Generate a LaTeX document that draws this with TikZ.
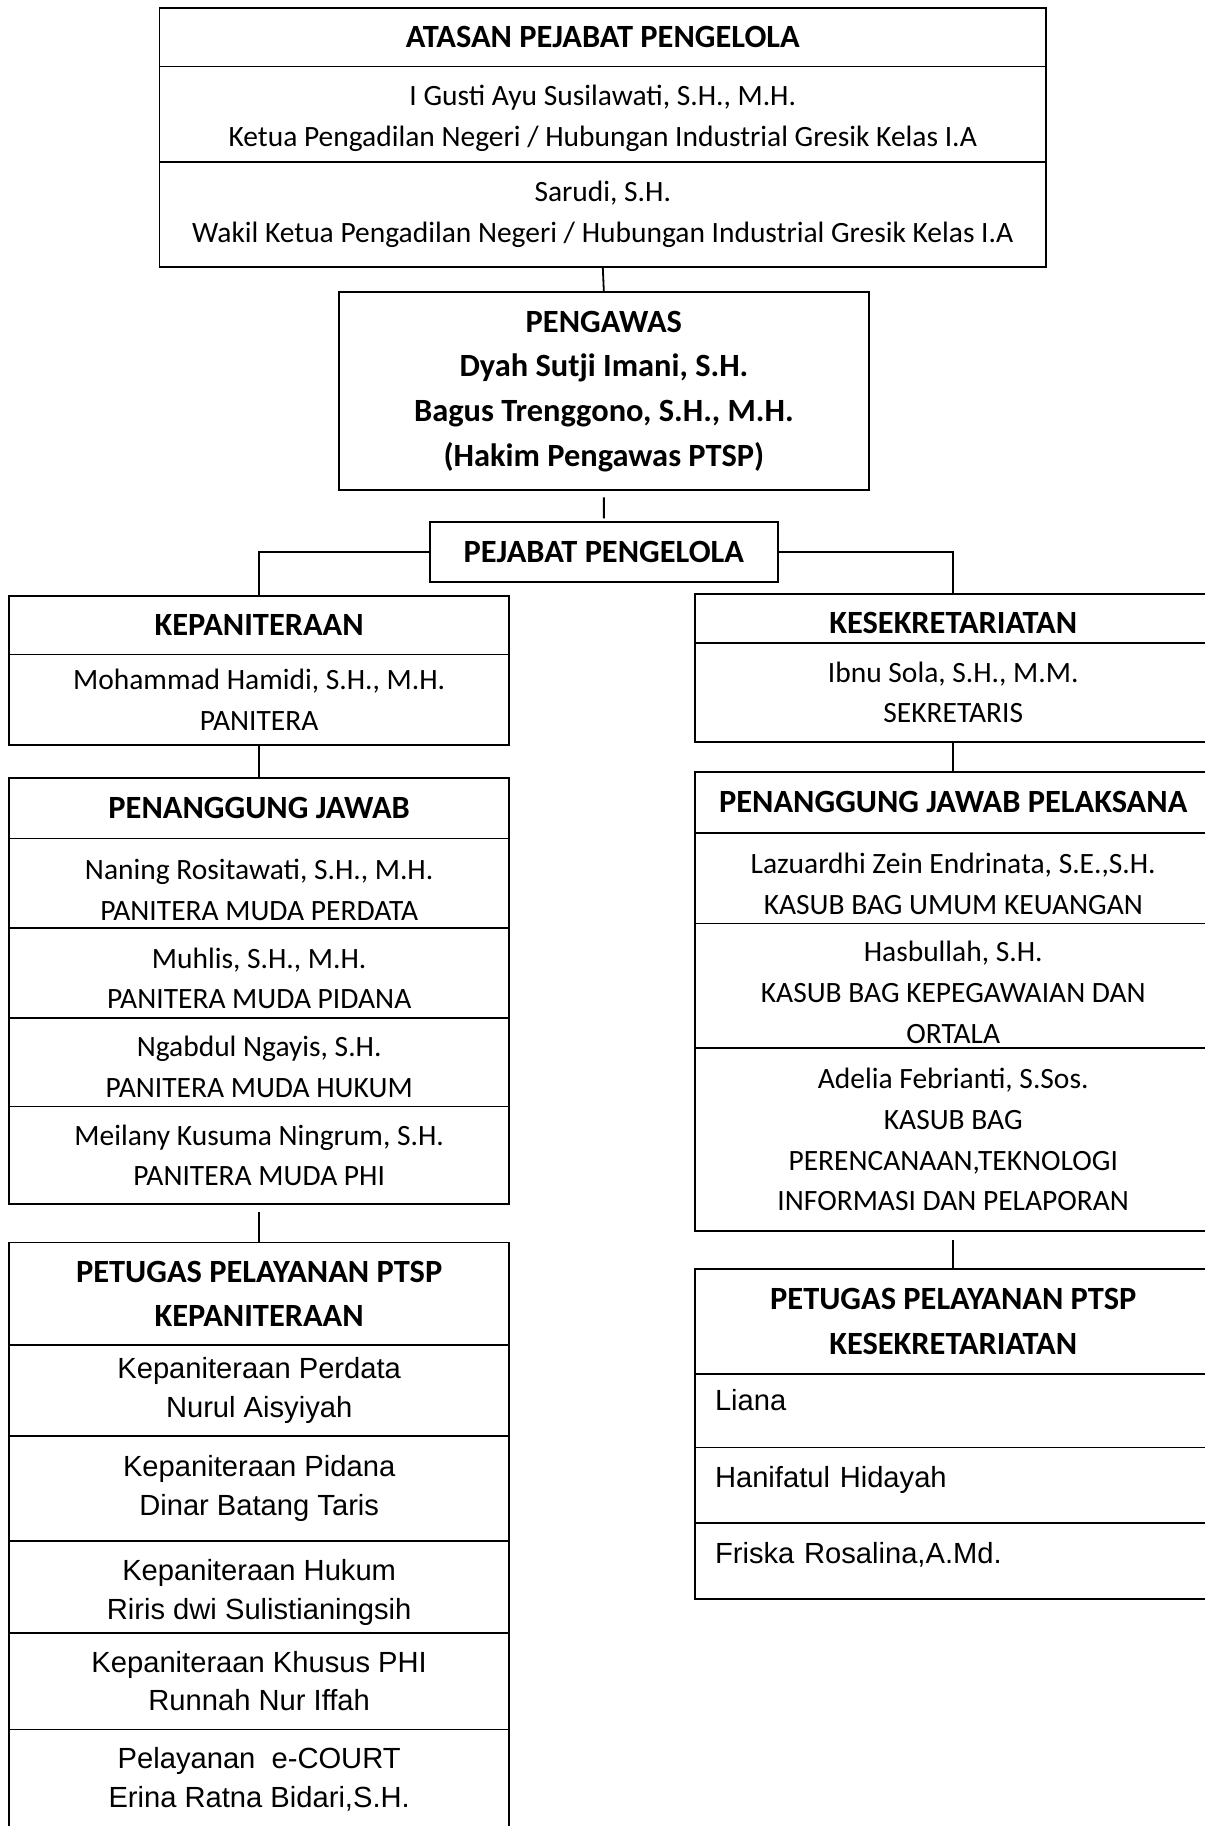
\documentclass[tikz,border=0pt]{standalone}
\usepackage{fontspec}
\setmainfont{Carlito}
\newfontfamily\arialfont{Liberation Sans}
\usepackage{tikz}
\usetikzlibrary{positioning, calc}
\newcommand{\padtop}[1]{\rule{0pt}{#1}}
\newcommand{\padbot}[1]{\rule[-#1]{0pt}{#1}}
\tikzset{
    cellnode/.style={rectangle, draw=black, line width=1.1pt, inner sep=0pt, outer sep=0pt, align=center, font=\fontsize{18}{24.8}\selectfont},
    headnode/.style={cellnode, font=\bfseries\fontsize{19.8}{27.3}\selectfont},
    arialnode/.style={cellnode, font=\arialfont\fontsize{17.8}{23.6}\selectfont},
    leftnode/.style={arialnode, align=left, text width=10.225cm},
    topcol/.style={minimum width=19.025cm},
    leftcol/.style={minimum width=10.725cm},
    rightcol/.style={minimum width=11.075cm},
    link/.style={draw=black, line width=1.1pt},
}

\begin{document}
\begin{tikzpicture}[x=0.025cm, y=-0.025cm]
    % Sfondo / dimensioni pagina
    \fill[white] (0,0) rectangle (1034,1568);
    \useasboundingbox (0,0) rectangle (1034,1568);

    % --- ATASAN PEJABAT PENGELOLA ---
    \node[headnode, topcol, minimum height=1.25cm, anchor=north west] (atasanHead) at (137,7) {ATASAN PEJABAT PENGELOLA};
    \node[cellnode, topcol, minimum height=2.05cm, below=0pt of atasanHead] (atasanKetua) {\padtop{17.5pt}I Gusti Ayu Susilawati, S.H., M.H.\\Ketua Pengadilan Negeri / Hubungan Industrial Gresik Kelas I.A};
    \node[cellnode, topcol, minimum height=2.25cm, below=0pt of atasanKetua] (atasanWakil) {Sarudi, S.H.\\Wakil Ketua Pengadilan Negeri / Hubungan Industrial Gresik Kelas I.A};

    % --- PENGAWAS ---
    \node[headnode, minimum width=11.375cm, minimum height=4.25cm, anchor=north west] (pengawas) at (291,251) {PENGAWAS\\Dyah Sutji Imani, S.H.\\Bagus Trenggono, S.H., M.H.\\(Hakim Pengawas PTSP)};

    % --- PEJABAT PENGELOLA ---
    \node[headnode, minimum width=7.475cm, minimum height=1.3cm, anchor=north west] (pejabat) at (369,448) {PEJABAT PENGELOLA};

    % --- Colonna sinistra: KEPANITERAAN ---
    \node[headnode, leftcol, minimum height=1.25cm, anchor=north west] (kepanHead) at (8,512) {KEPANITERAAN};
    \node[cellnode, leftcol, minimum height=1.95cm, below=0pt of kepanHead] (kepanBody) {Mohammad Hamidi, S.H., M.H.\\PANITERA};

    \node[headnode, leftcol, minimum height=1.3cm, anchor=north west] (pjHead) at (8,668) {PENANGGUNG JAWAB};
    \node[cellnode, leftcol, minimum height=1.925cm, below=0pt of pjHead] (pjA) {\padtop{20.3pt}Naning Rositawati, S.H., M.H.\\PANITERA MUDA PERDATA};
    \node[cellnode, leftcol, minimum height=1.925cm, below=0pt of pjA] (pjB) {\padtop{18.9pt}Muhlis, S.H., M.H.\\PANITERA MUDA PIDANA};
    \node[cellnode, leftcol, minimum height=1.9cm, below=0pt of pjB] (pjC) {\padtop{18.2pt}Ngabdul Ngayis, S.H.\\PANITERA MUDA HUKUM};
    \node[cellnode, leftcol, minimum height=2.1cm, below=0pt of pjC] (pjD) {Meilany Kusuma Ningrum, S.H.\\PANITERA MUDA PHI};

    \node[headnode, leftcol, minimum height=2.2cm, anchor=north west] (ptspKHead) at (8,1067) {PETUGAS PELAYANAN PTSP\\KEPANITERAAN};
    \node[arialnode, leftcol, minimum height=1.95cm, below=0pt of ptspKHead] (ptspKa) {Kepaniteraan Perdata\\Nurul Aisyiyah};
    \node[arialnode, leftcol, minimum height=2.25cm, below=0pt of ptspKa] (ptspKb) {Kepaniteraan Pidana\\Dinar Batang Taris};
    \node[arialnode, leftcol, minimum height=1.975cm, below=0pt of ptspKb] (ptspKc) {\padtop{19.9pt}Kepaniteraan Hukum\\Riris dwi Sulistianingsih};
    \node[arialnode, leftcol, minimum height=2.075cm, below=0pt of ptspKc] (ptspKd) {Kepaniteraan Khusus PHI\\Runnah Nur Iffah};
    \node[arialnode, leftcol, minimum height=2.15cm, below=0pt of ptspKd] (ptspKe) {Pelayanan~ e-COURT\\Erina Ratna Bidari,S.H.};

    % --- Colonna destra: KESEKRETARIATAN ---
    \node[headnode, rightcol, minimum height=1.05cm, anchor=north west] (kesekHead) at (597,510) {\padtop{18.9pt}KESEKRETARIATAN};
    \node[cellnode, rightcol, minimum height=2.125cm, below=0pt of kesekHead] (kesekBody) {Ibnu Sola, S.H., M.M.\\SEKRETARIS};

    \node[headnode, rightcol, minimum height=1.3cm, anchor=north west] (pjpHead) at (597,663) {PENANGGUNG JAWAB PELAKSANA};
    \node[cellnode, rightcol, minimum height=1.95cm, below=0pt of pjpHead] (pjpA) {\padtop{19.6pt}Lazuardhi Zein Endrinata, S.E.,S.H.\\KASUB BAG UMUM KEUANGAN};
    \node[cellnode, rightcol, minimum height=2.675cm, below=0pt of pjpA] (pjpB) {\padtop{20.5pt}Hasbullah, S.H.\\KASUB BAG KEPEGAWAIAN DAN\\ORTALA};
    \node[cellnode, rightcol, minimum height=3.925cm, below=0pt of pjpB] (pjpC) {Adelia Febrianti, S.Sos.\\KASUB BAG\\PERENCANAAN,TEKNOLOGI\\INFORMASI DAN PELAPORAN};

    \node[headnode, rightcol, minimum height=2.25cm, anchor=north west] (ptspSHead) at (597,1090) {PETUGAS PELAYANAN PTSP\\KESEKRETARIATAN};
    \node[leftnode, rightcol, minimum height=1.575cm, below=0pt of ptspSHead] (ptspSa) {Liana\padbot{12.8pt}};
    \node[leftnode, rightcol, minimum height=1.625cm, below=0pt of ptspSa] (ptspSb) {Hanifatul Hidayah\padbot{10.8pt}};
    \node[leftnode, rightcol, minimum height=1.625cm, below=0pt of ptspSb] (ptspSc) {Friska Rosalina,A.Md.\padbot{9.7pt}};

    % --- Collegamenti ---
    \draw[link] (atasanWakil.south) -- (pengawas.north);
    \draw[link, shorten <=0.15cm, shorten >=0.07cm] (pengawas.south) -- (pejabat.north);
    \draw[link] (pejabat.west) -| (kepanHead.north);
    \draw[link] (pejabat.east) -| (kesekHead.north);
    \draw[link] (kepanBody.south) -- (pjHead.north);
    \draw[link, shorten <=0.17cm] (pjD.south) -- (ptspKHead.north);
    \draw[link] (kesekBody.south) -- (pjpHead.north);
    \draw[link, shorten <=0.2cm] (pjpC.south) -- (ptspSHead.north);
\end{tikzpicture}
\end{document}
